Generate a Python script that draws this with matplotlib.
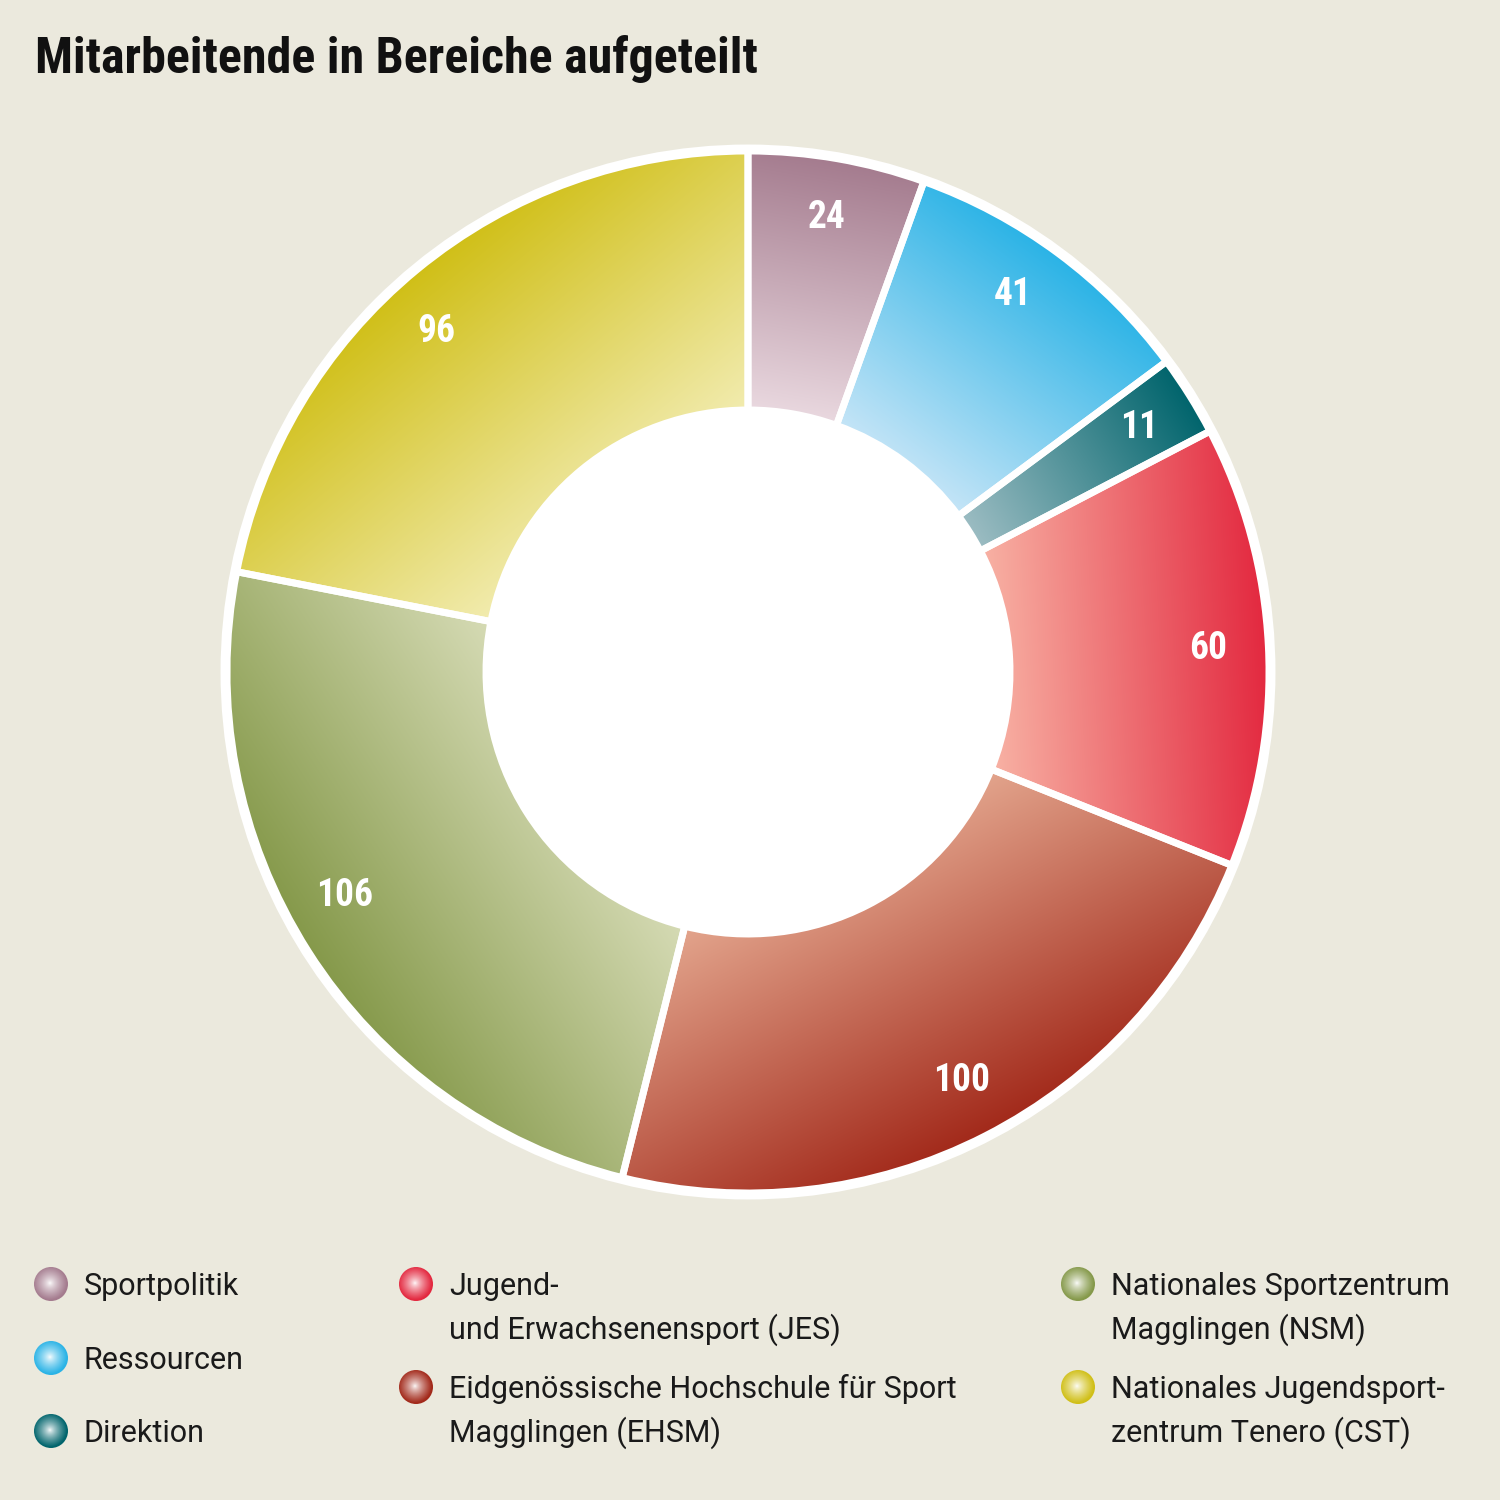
import numpy as np
import matplotlib
matplotlib.use('Agg')
import matplotlib.pyplot as plt
from matplotlib.patches import Wedge, Circle
from matplotlib import font_manager as fm
from matplotlib.colors import to_rgb

# Data
title = 'Mitarbeitende in Bereiche aufgeteilt'
categories = ['Sportpolitik', 'Ressourcen', 'Direktion',
              'Jugend-\nund Erwachsenensport (JES)',
              'Eidgenössische Hochschule für Sport\nMagglingen (EHSM)',
              'Nationales Sportzentrum\nMagglingen (NSM)',
              'Nationales Jugendsport-\nzentrum Tenero (CST)']
values = [24, 41, 11, 60, 100, 106, 96]
dark_colors = ['#a47b8e', '#2ab3e6', '#00646c', '#e3283f', '#a2291a', '#85994a', '#d0bf17']
light_colors = ['#ead9e0', '#c6e5f7', '#9dbdc3', '#f8b3a5', '#e3a58d', '#d6dbb5', '#f2ecb0']

BG = '#ebe9dd'


def pick_font(*names):
    avail = {f.name for f in fm.fontManager.ttflist}
    for n in names:
        if n in avail:
            return n
    return 'DejaVu Sans'


narrow = pick_font('Liberation Sans Narrow', 'Roboto Condensed', 'DejaVu Sans')
text_font = pick_font('Roboto', 'Lato', 'DejaVu Sans')

fig = plt.figure(figsize=(15, 15), dpi=100, facecolor=BG)
ax = fig.add_axes([0, 0, 1, 1])
ax.set_facecolor(BG)

cx, cy = 748, 672
r_out, r_in = 521, 262
label_r = 461
label_shift = [0, -1.5, 0, 0, -0.5, 3.5, -3]  # small angle nudges of the value labels


def gradient_wedge(phi1, phi2, light, dark):
    th1, th2 = phi1 - 90, phi2 - 90
    w = Wedge((cx, cy), r_out, th1, th2, width=r_out - r_in,
              facecolor='none', edgecolor='none')
    ax.add_patch(w)
    mid = np.deg2rad((th1 + th2) / 2)
    ux, uy = np.cos(mid), np.sin(mid)
    half = np.deg2rad((th2 - th1) / 2)
    p0 = r_in * np.cos(min(half, np.pi / 2))
    n = 700
    xs = np.linspace(cx - r_out, cx + r_out, n)
    ys = np.linspace(cy - r_out, cy + r_out, n)
    X, Y = np.meshgrid(xs, ys)
    t = np.clip(((X - cx) * ux + (Y - cy) * uy - p0) / (r_out - p0), 0, 1)[..., None]
    img = np.array(to_rgb(light)) * (1 - t) + np.array(to_rgb(dark)) * t
    im = ax.imshow(img, extent=(xs[0], xs[-1], ys[-1], ys[0]), origin='upper',
                   interpolation='bilinear', zorder=1)
    im.set_clip_path(w)
    ax.add_patch(Wedge((cx, cy), r_out, th1, th2, width=r_out - r_in,
                       facecolor='none', edgecolor='white', linewidth=5, zorder=2))


total = sum(values)
start = 0.0
for v, lc, dc, sh in zip(values, light_colors, dark_colors, label_shift):
    span = v / total * 360
    gradient_wedge(start, start + span, lc, dc)
    a = np.deg2rad(start + span / 2 + sh - 90)
    ax.text(cx + label_r * np.cos(a), cy + label_r * np.sin(a), str(v), color='white',
            fontsize=27, fontweight='bold', family=narrow,
            ha='center', va='center', zorder=4)
    start += span

ax.add_patch(Circle((cx, cy), r_out + 3, facecolor='none', edgecolor='white',
                    linewidth=5, zorder=3))
ax.add_patch(Circle((cx, cy), r_in, facecolor='white', edgecolor='white',
                    linewidth=3, zorder=3))

# Title
ax.text(35, 73, title, fontsize=36, fontweight='bold', family=narrow,
        color='#111111', ha='left', va='baseline')


# Legend
def ball(x, y, r, dark):
    c = Circle((x, y), r, facecolor='none', edgecolor='none')
    ax.add_patch(c)
    n = 90
    xs = np.linspace(x - r, x + r, n)
    ys = np.linspace(y - r, y + r, n)
    X, Y = np.meshgrid(xs, ys)
    d = np.clip(np.hypot(X - x + 1, Y - y + 1) / r, 0, 1)[..., None] ** 0.75
    img = np.ones(3) * (1 - d) + np.array(to_rgb(dark)) * d
    im = ax.imshow(img, extent=(xs[0], xs[-1], ys[-1], ys[0]), origin='upper',
                   interpolation='bilinear', zorder=5)
    im.set_clip_path(c)


legend_pos = [(51, 1284), (51, 1358), (51, 1431),
              (416, 1284), (416, 1387), (1078, 1284), (1078, 1387)]
for (mx, my), label, dc in zip(legend_pos, categories, dark_colors):
    ball(mx, my, 17, dc)
    for k, line in enumerate(label.split('\n')):
        ax.text(mx + 33, my + 11 + 44 * k, line, fontsize=22, family=text_font,
                fontweight='normal', color='#1a1a1a', ha='left', va='baseline')

ax.set_xlim(0, 1500)
ax.set_ylim(1500, 0)
ax.set_aspect('equal')
ax.axis('off')

fig.savefig('out.png', dpi=100, facecolor=BG)
